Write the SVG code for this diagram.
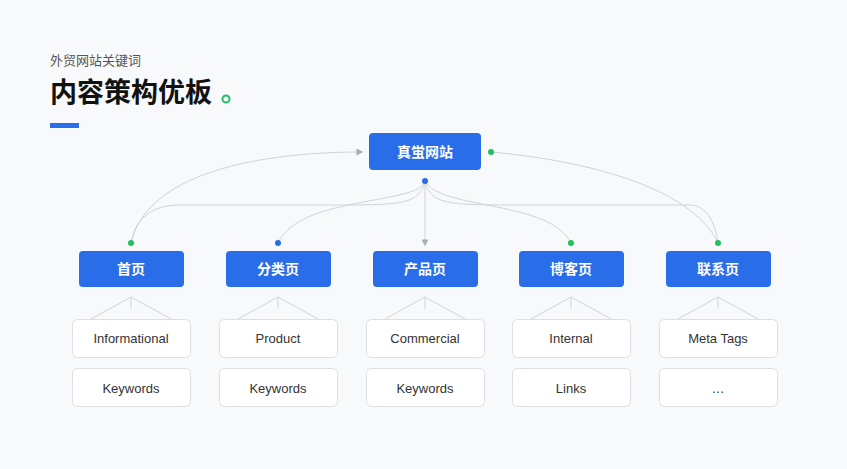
<svg xmlns="http://www.w3.org/2000/svg" width="847" height="469" viewBox="0 0 847 469">
<style>
.n rect{fill:#2a6de9}
.n text{fill:#fff;font:bold 14px "Noto Sans CJK SC",sans-serif;text-anchor:middle}
.k rect{fill:#fff;stroke:#dcdfe4;stroke-width:1}
.k text{fill:#333;font:13px "Liberation Sans","Noto Sans CJK SC",sans-serif;text-anchor:middle}
.c path{fill:none;stroke:#cfd3d9;stroke-width:1}
.g{fill:#22c063}.b{fill:#2a6de9}
</style>
<defs><marker id="a" viewBox="0 0 10 10" refX="8" refY="5" markerWidth="7" markerHeight="7" orient="auto"><path d="M0,0L10,5L0,10z" fill="#a9adb5"/></marker></defs>
<rect width="847" height="469" fill="#f8f9fa"/>
<text x="50" y="65" font-family="Noto Sans CJK SC,sans-serif" font-size="13" fill="#555">外贸网站关键词</text>
<text x="50" y="102" font-family="Noto Sans CJK SC,sans-serif" font-size="27" font-weight="bold" fill="#111">内容策构优板</text>
<circle cx="226" cy="99" r="3.5" fill="none" stroke="#22c063" stroke-width="2"/>
<rect x="50" y="123" width="29" height="5" fill="#2a6de9"/>
<g class="c">
<path d="M131,243C150,160 300,152 362,152" marker-end="url(#a)"/>
<path d="M425,181C420,205 400,205 330,205L180,205C150,205 135,220 131,243"/>
<path d="M425,181C420,205 300,195 278,243"/>
<path d="M425,181L425,245" marker-end="url(#a)"/>
<path d="M425,181C440,210 550,200 571,243"/>
<path d="M425,181C430,205 450,205 520,205L690,205C705,205 715,220 718,243"/>
<path d="M491,152C580,160 690,185 718,243"/>
<path d="M131,309V297L91,319M131,297L171,319M278,309V297L238,319M278,297L318,319M425,309V297L385,319M425,297L465,319M571,309V297L531,319M571,297L611,319M718,309V297L678,319M718,297L758,319"/>
</g>
<circle cx="425" cy="181" r="3" class="b"/><circle cx="491" cy="152" r="3" class="g"/>
<circle cx="131" cy="243" r="3" class="g"/><circle cx="278" cy="243" r="3" class="b"/>
<circle cx="571" cy="243" r="3" class="g"/><circle cx="718" cy="243" r="3" class="g"/>
<g id="root" class="n"><rect x="369" y="133" width="112" height="37" rx="4"/><text x="425" y="157">真蛍网站</text></g>
<g id="n1" class="n"><rect x="79" y="251" width="105" height="36" rx="4"/><text x="131" y="274">首页</text></g>
<g id="n2" class="n"><rect x="226" y="251" width="105" height="36" rx="4"/><text x="278" y="274">分类页</text></g>
<g id="n3" class="n"><rect x="373" y="251" width="105" height="36" rx="4"/><text x="425" y="274">产品页</text></g>
<g id="n4" class="n"><rect x="519" y="251" width="105" height="36" rx="4"/><text x="571" y="274">博客页</text></g>
<g id="n5" class="n"><rect x="666" y="251" width="105" height="36" rx="4"/><text x="718" y="274">联系页</text></g>
<g id="k1a" class="k"><rect x="72.5" y="319.5" width="118" height="38" rx="5"/><text x="131" y="343">Informational</text></g>
<g id="k1b" class="k"><rect x="72.5" y="368.5" width="118" height="38" rx="5"/><text x="131" y="393">Keywords</text></g>
<g id="k2a" class="k"><rect x="219.5" y="319.5" width="118" height="38" rx="5"/><text x="278" y="343">Product</text></g>
<g id="k2b" class="k"><rect x="219.5" y="368.5" width="118" height="38" rx="5"/><text x="278" y="393">Keywords</text></g>
<g id="k3a" class="k"><rect x="366.5" y="319.5" width="118" height="38" rx="5"/><text x="425" y="343">Commercial</text></g>
<g id="k3b" class="k"><rect x="366.5" y="368.5" width="118" height="38" rx="5"/><text x="425" y="393">Keywords</text></g>
<g id="k4a" class="k"><rect x="512.5" y="319.5" width="118" height="38" rx="5"/><text x="571" y="343">Internal</text></g>
<g id="k4b" class="k"><rect x="512.5" y="368.5" width="118" height="38" rx="5"/><text x="571" y="393">Links</text></g>
<g id="k5a" class="k"><rect x="659.5" y="319.5" width="118" height="38" rx="5"/><text x="718" y="343">Meta Tags</text></g>
<g id="k5b" class="k"><rect x="659.5" y="368.5" width="118" height="38" rx="5"/><text x="718" y="393">…</text></g>
</svg>
